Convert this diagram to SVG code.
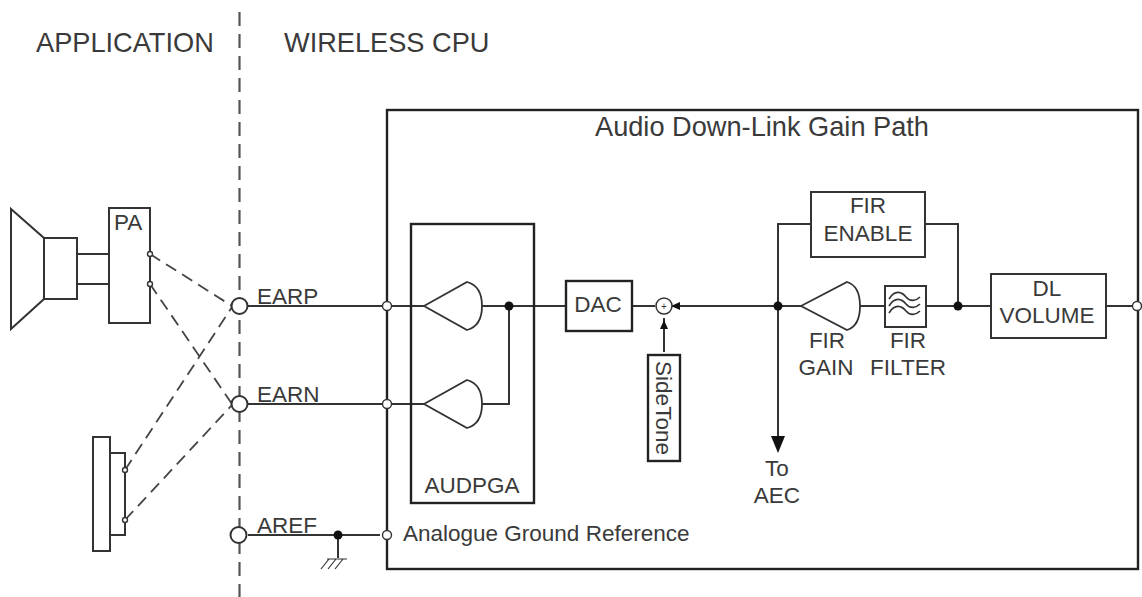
<svg xmlns="http://www.w3.org/2000/svg" width="1142" height="597" viewBox="0 0 1142 597">
<style>
text{font-family:"Liberation Sans",Arial,sans-serif;fill:#3a3a3a;font-size:22.5px}
.h{font-size:27.2px}
.m{text-anchor:middle}
.b{fill:none;stroke:#222;stroke-width:2.4}
.w{fill:#fff;stroke:#333;stroke-width:2}
.l{fill:none;stroke:#333;stroke-width:2}
.d{fill:none;stroke:#444;stroke-width:1.8;stroke-dasharray:12 7}
.t{fill:#fff;stroke:#333;stroke-width:1.4}
.k{fill:#111}
</style>
<defs>
<path id="amp" d="M0 0L43-24Q58-20 58 0Q58 20 43 24Z" fill="#fff" stroke="#333" stroke-width="1.8"/>
</defs>
<g id="connectors">
<path class="d" d="M239.500 12V597" style="stroke-width:2.200;stroke:#555;stroke-dasharray:14 8"/>
<path class="d" d="M150 254L232 306M150 284L232 404M125 470L232 307M125 520L232 405"/>
<path class="l" d="M248 306H424M248 404H424M248 535H380"/>
<path class="l" d="M481 306H566M481 404H509V306M632 306H655M672 306H778M664 352V318"/>
<path class="l" d="M778 306H801M860 306H885M926 306H991M1106 306H1132"/>
<path class="l" d="M811 224H778V440M925 224H958V306"/>
<path class="l" d="M338 535V558"/>
<path d="M327 559H347M321 569L329 559M328 569L336 559M335 569L343 559" class="l" style="stroke-width:1.200"/>
<path class="l" d="M77 254H109M77 284H109M110 453H125V535H110"/>
<path class="k" d="M771 436H785L778 453Z"/>
<path class="k" d="M671 306L680 302V310Z"/>
<path class="k" d="M664 320L660 329H668Z"/>
<circle class="k" cx="509" cy="306" r="4.500"/>
<circle class="k" cx="778" cy="306" r="4.500"/>
<circle class="k" cx="958" cy="306" r="4.500"/>
<circle class="k" cx="338" cy="535" r="4.500"/>
</g>
<g id="node-title-app"><text class="h" x="36" y="51.500">APPLICATION</text></g>
<g id="node-title-cpu"><text class="h" x="284" y="51.500">WIRELESS CPU</text></g>
<g id="node-gain-path"><rect class="b" x="387" y="110" width="751" height="459"/><text class="h m" x="762" y="136">Audio Down-Link Gain Path</text></g>
<g id="node-speaker"><path class="w" d="M11 209L44 238V299L11 329Z"/><rect class="w" x="44" y="238" width="33" height="61"/></g>
<g id="node-pa"><rect class="w" x="109" y="208" width="41" height="115"/><text x="114" y="230">PA</text><circle class="t" cx="150" cy="254" r="2.500"/><circle class="t" cx="150" cy="284" r="2.500"/></g>
<g id="node-earpiece"><rect class="w" x="93" y="437" width="17" height="114"/><circle class="t" cx="125" cy="470" r="2.500"/><circle class="t" cx="125" cy="520" r="2.500"/></g>
<g id="node-earp"><circle class="w" cx="239.500" cy="306" r="8"/><text x="257" y="304">EARP</text></g>
<g id="node-earn"><circle class="w" cx="239.500" cy="404" r="8"/><text x="257" y="402">EARN</text></g>
<g id="node-aref"><circle class="w" cx="238.500" cy="535" r="8"/><text x="257" y="533">AREF</text></g>
<g id="node-port-earp"><circle class="t" cx="387" cy="306" r="4.500"/></g>
<g id="node-port-earn"><circle class="t" cx="387" cy="404" r="4.500"/></g>
<g id="node-port-aref"><circle class="t" cx="387" cy="535" r="4.500"/><text x="403" y="541">Analogue Ground Reference</text></g>
<g id="node-audpga"><rect class="b" x="411" y="224" width="123" height="279"/><use href="#amp" x="424" y="306"/><use href="#amp" x="424" y="404"/><text class="m" x="472" y="493">AUDPGA</text></g>
<g id="node-dac"><rect class="b" x="566" y="281" width="66" height="50"/><text class="m" x="598" y="312">DAC</text></g>
<g id="node-sum"><circle class="w" cx="664" cy="306" r="8" style="stroke-width:1.500"/><text class="m" x="664" y="310" style="font-size:10px">+</text></g>
<g id="node-sidetone"><rect class="b" x="648" y="355" width="32" height="106"/><text class="m" transform="translate(656 408) rotate(90)">SideTone</text></g>
<g id="node-fir-enable"><rect class="w" x="811" y="192" width="114" height="65"/><text class="m" x="868" y="213">FIR</text><text class="m" x="868" y="241">ENABLE</text></g>
<g id="node-fir-gain"><path d="M801 306L847 282Q860 286 860 306Q860 326 847 330Z" fill="#fff" stroke="#333" stroke-width="1.800"/><text class="m" x="827" y="348">FIR</text><text class="m" x="826" y="375">GAIN</text></g>
<g id="node-fir-filter"><rect class="w" x="885" y="286" width="41" height="41"/><path class="l" d="M889 299C895 289 902 292 906 297S916 301 920 297M889 306C895 296 902 299 906 304S916 308 920 304M889 313C895 303 902 306 906 311S916 315 920 311" style="stroke-width:1.600"/><text class="m" x="908" y="348">FIR</text><text class="m" x="908" y="375">FILTER</text></g>
<g id="node-dl-volume"><rect class="w" x="991" y="274" width="115" height="64"/><text class="m" x="1047" y="296">DL</text><text class="m" x="1047" y="323">VOLUME</text></g>
<g id="node-port-out"><circle class="t" cx="1137" cy="306" r="4.500"/></g>
<g id="node-to-aec"><text class="m" x="777" y="476">To</text><text class="m" x="777" y="503">AEC</text></g>
</svg>
